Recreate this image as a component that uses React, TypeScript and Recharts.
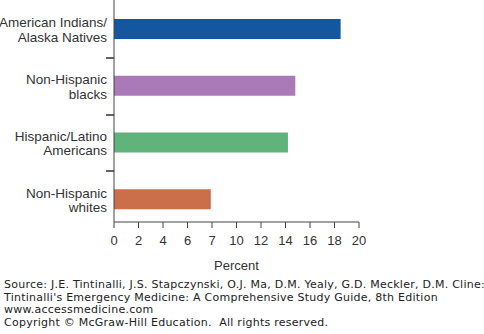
import React from 'react'
import { BarChart, Bar, XAxis, YAxis, Cell, Label } from 'recharts'

const groups = [
  ['American Indians/', 'Alaska Natives'],
  ['Non-Hispanic', 'blacks'],
  ['Hispanic/Latino', 'Americans'],
  ['Non-Hispanic', 'whites'],
]
const percents = [18.5, 14.8, 14.2, 7.9]
const barColors = ['#1257a0', '#a97ab7', '#62b37b', '#cb6e4a']
const xTicks = [0, 2, 4, 6, 8, 10, 12, 14, 16, 18, 20]
const xTickLabels = ['0', '2', '4', '6', '7', '10', '12', '14', '16', '18', '20']
const sourceLines = [
  'Source: J.E. Tintinalli, J.S. Stapczynski, O.J. Ma, D.M. Yealy, G.D. Meckler, D.M. Cline:',
  "Tintinalli's Emergency Medicine: A Comprehensive Study Guide, 8th Edition",
  'www.accessmedicine.com',
  'Copyright \u00a9 McGraw-Hill Education.  All rights reserved.',
]

const data = groups.map((g, i) => ({ key: g.join(' '), lines: g, value: percents[i] }))

if (typeof document !== 'undefined') document.body.style.margin = '0'

const FONT = 'Helvetica, Arial, "Liberation Sans", sans-serif'
const AXIS = '#444'
const Y_AXIS_W = 114

// category labels sit mid-band, tick marks sit on the band boundaries
const CategoryTick = (props: any) => {
  const { y, payload, index } = props
  const half = payload?.offset || 28
  const lines = groups[index] || [String(payload.value)]
  const ax = Y_AXIS_W
  const ty = Math.round(y - half)
  return (
    <g>
      {index > 0 && (
        <rect x={ax - 8} y={ty - 0.75} width={8} height={1.5} fill="#333" />
      )}
      <text x={ax - 7} y={y} textAnchor="end" fontSize={13.5} fill="#333" fontFamily={FONT}>
        <tspan x={ax - 7} dy={-2}>{lines[0]}</tspan>
        <tspan x={ax - 7} dy={14.5}>{lines[1]}</tspan>
      </text>
    </g>
  )
}

export default function App() {
  return (
    <div style={{ position: 'relative', width: 484, height: 334, background: '#fff' }}>
      <BarChart
        width={484}
        height={280}
        data={data}
        layout="vertical"
        margin={{ top: 0, right: 125, bottom: 0, left: 0 }}
      >
        <XAxis
          type="number"
          domain={[0, 20]}
          ticks={xTicks}
          tickFormatter={(v: number) => xTickLabels[xTicks.indexOf(v)]}
          stroke={AXIS}
          tick={{ fill: '#333', fontSize: 13, fontFamily: FONT }}
          tickSize={6}
          tickMargin={8}
          height={58}
          interval={0}
        >
          <Label value="Percent" position="insideBottom" offset={10} fill="#333" fontSize={13} fontFamily={FONT} />
        </XAxis>
        <YAxis
          type="category"
          dataKey="key"
          width={Y_AXIS_W}
          stroke={AXIS}
          tickLine={false}
          tick={<CategoryTick />}
          padding={{ top: 1, bottom: -6 }}
        />
        <Bar dataKey="value" barSize={20} isAnimationActive={false}>
          {data.map((d, i) => (
            <Cell key={d.key} fill={barColors[i]} />
          ))}
        </Bar>
      </BarChart>
      <div
        style={{
          position: 'absolute',
          left: 4,
          top: 279,
          fontFamily: 'Verdana, "DejaVu Sans", sans-serif',
          fontSize: 11,
          letterSpacing: 0.25,
          lineHeight: '12.5px',
          color: '#222',
          whiteSpace: 'pre',
        }}
      >
        {sourceLines.map((l) => (
          <div key={l}>{l}</div>
        ))}
      </div>
    </div>
  )
}
